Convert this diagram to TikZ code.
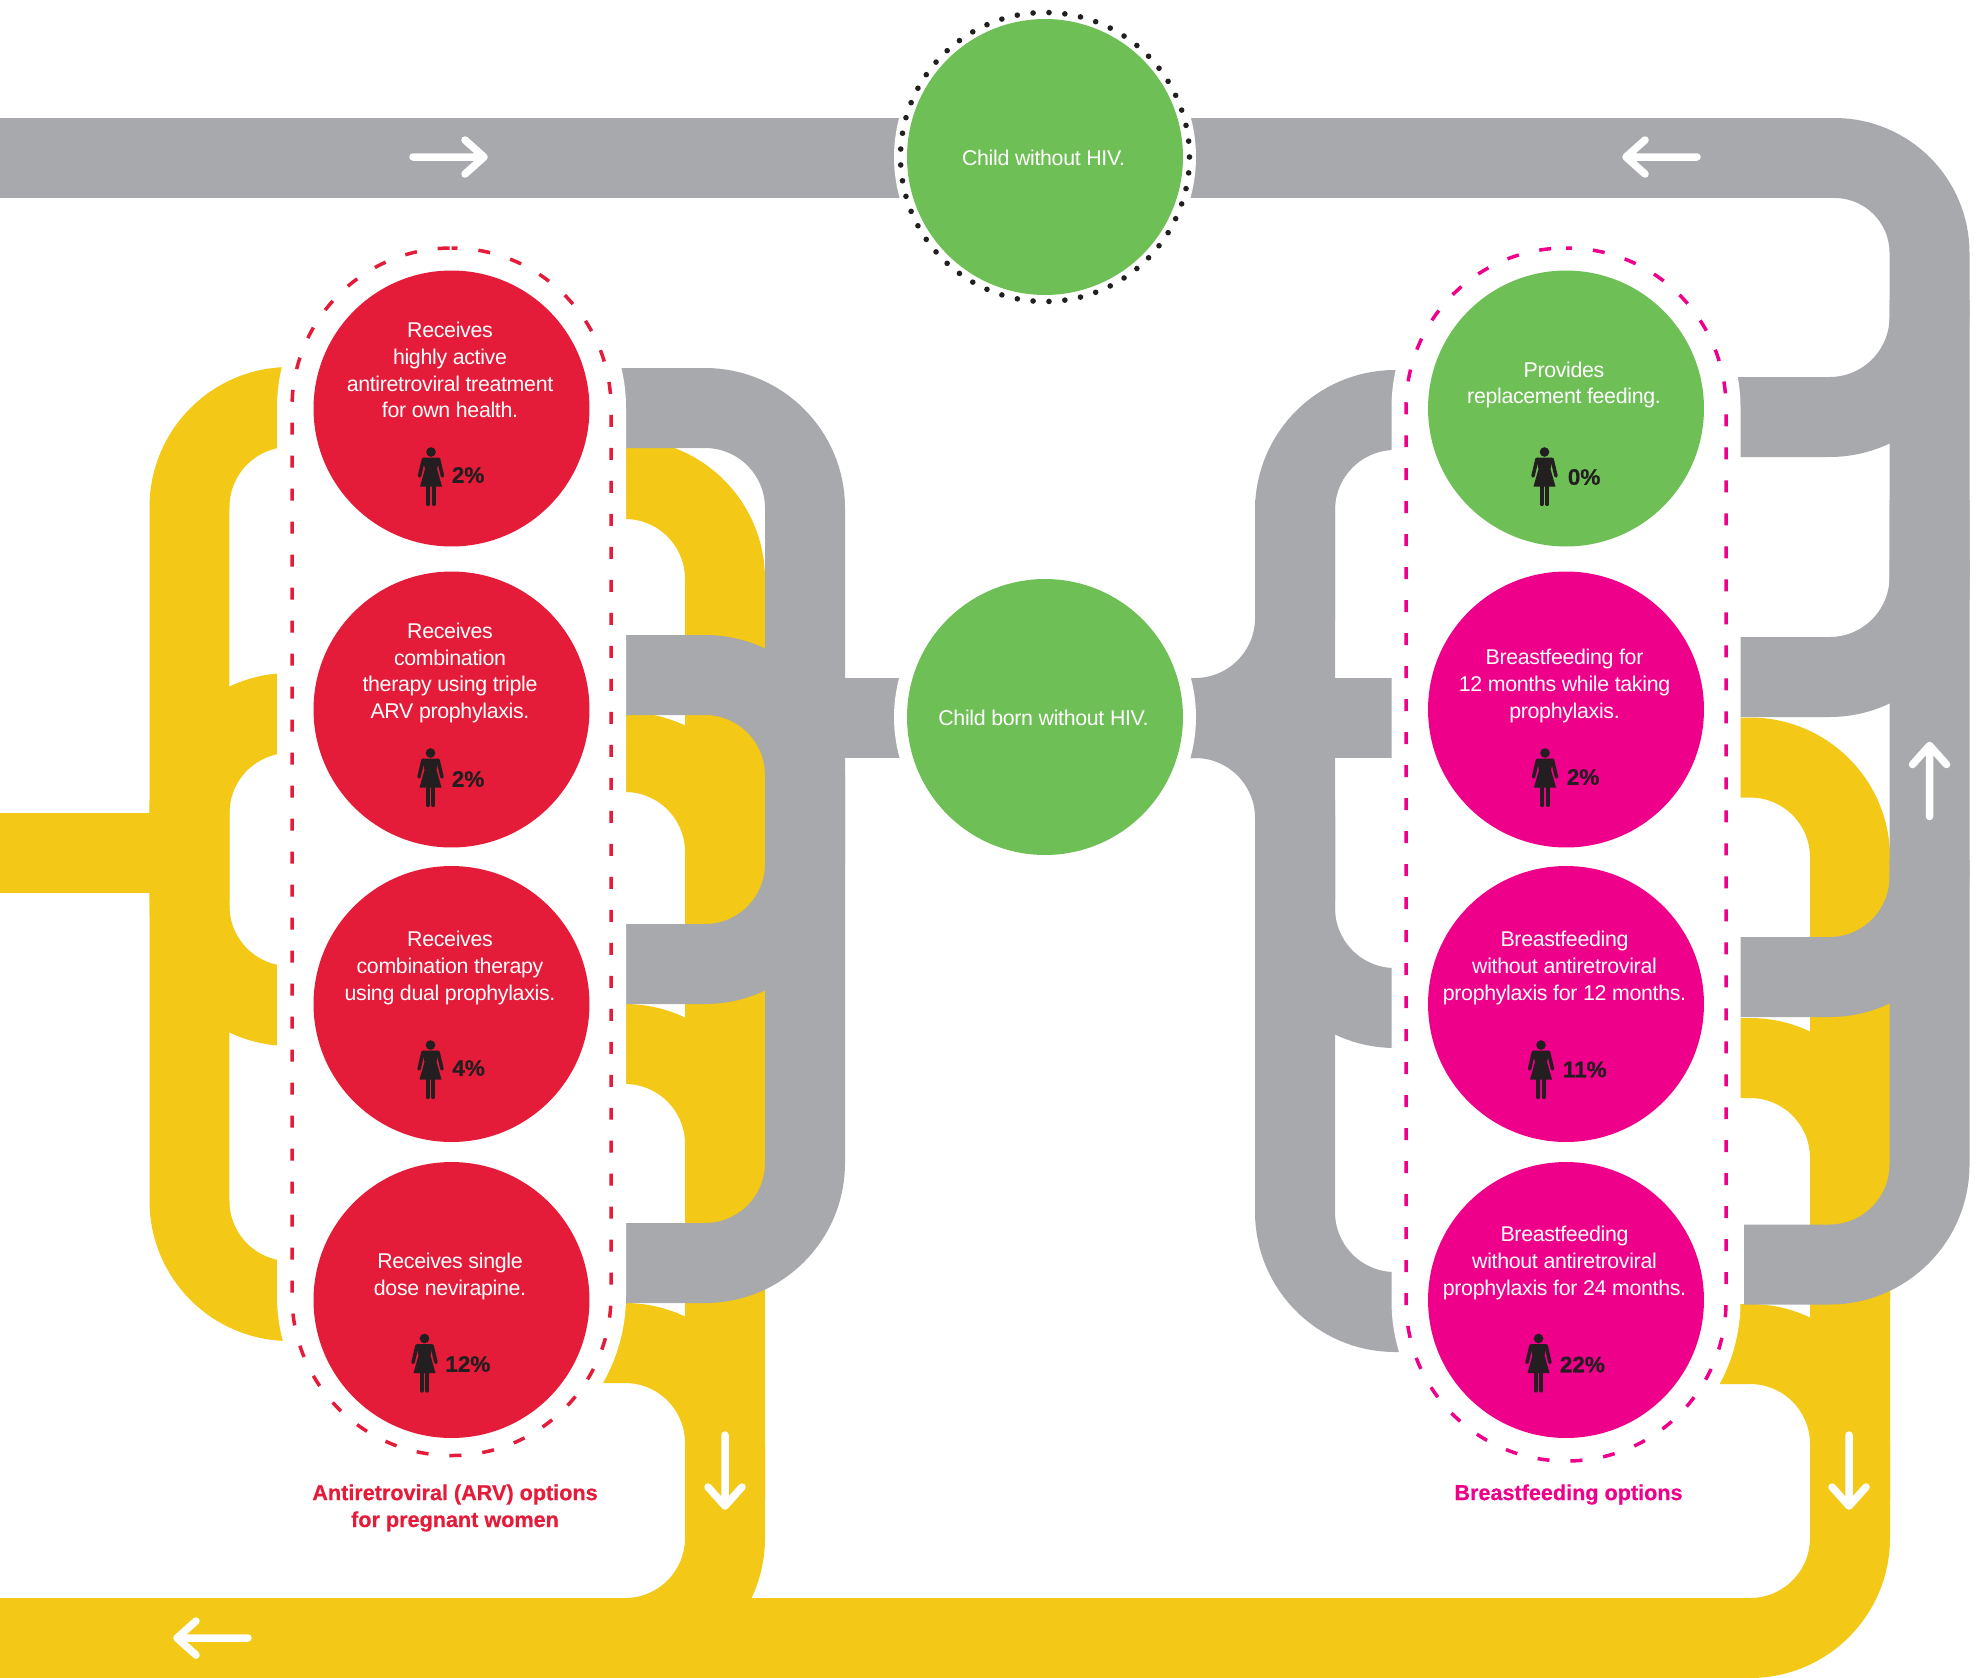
\documentclass[tikz,border=0pt]{standalone}
\usepackage{fontspec}
\setmainfont{Liberation Sans}
\newfontfamily\tightfont[LetterSpace=-1.5]{Liberation Sans}
\newfontfamily\heavyfont[FakeBold=0.5]{Liberation Sans Bold}
\definecolor{pipegray}{HTML}{A7A9AC}
\definecolor{pipeyellow}{HTML}{F3C816}
\definecolor{arvred}{HTML}{E41B39}
\definecolor{feedpink}{HTML}{EE008B}
\definecolor{okgreen}{HTML}{6FBF57}
\definecolor{iconblack}{HTML}{231F20}
\tikzset{
    graypipe/.style = {pipegray, line width = 1.6cm, rounded corners = 2cm},
    yellowpipe/.style = {pipeyellow, line width = 1.6cm, rounded corners = 2cm},
    halo/.style = {white, rounded corners = 3.49cm},
    pillline/.style = {line width = 0.07cm, dash pattern = on 0.24cm off 0.42cm, dash phase = 0.12cm, rounded corners = 3.19cm},
    optioncircle/.style = {circle, minimum size = 5.52cm, inner sep = 0pt},
    optiontext/.style = {white, align = center, font = \fontsize{12.15}{15.3}\tightfont},
    pctext/.style = {iconblack, anchor = west, inner sep = 0pt, font = \fontsize{12.8}{15}\heavyfont},
    grouptext/.style = {align = center, font = \fontsize{12.3}{15.3}\heavyfont},
    woman/.pic = {
        \fill[iconblack] (0,5) circle[radius = 0.096cm];
        \fill[iconblack] (-6.5,10.5) -- (6.5,10.5) -- (8,13) -- (6,22) -- (11,39.5) -- (-11,39.5) -- (-6,22) -- (-8,13) -- cycle;
        \draw[iconblack, line width = 0.07cm, line cap = round] (-7.5,12) -- (-11.5,29);
        \draw[iconblack, line width = 0.07cm, line cap = round] (7.5,12) -- (11.5,29);
        \draw[iconblack, line width = 0.085cm, line cap = round] (-2.8,39) -- (-2.8,57);
        \draw[iconblack, line width = 0.085cm, line cap = round] (2.8,39) -- (2.8,57);
    },
    flowarrow/.pic = {
        \draw[white, line width = 0.15cm, line cap = round, line join = round] (-36,0) -- (35,0) (16,-17) -- (35,0) -- (16,17);
    }
}
\begin{document}
\begin{tikzpicture}[x = 0.02cm, y = -0.02cm]
            \useasboundingbox (0,0) rectangle (1983,1677);
            \clip (0,0) rectangle (1983,1677);
            \draw[yellowpipe] (1700,757.5) -- (1850,757.5) -- (1850,1638) -- (0,1638);
            \draw[yellowpipe] (1700,1058) -- (1850,1058) -- (1850,1300);
            \draw[yellowpipe] (1700,1344) -- (1850,1344) -- (1850,1500);
            \draw[yellowpipe] (600,479) -- (725,479) -- (725,1638) -- (400,1638);
            \draw[yellowpipe] (600,752) -- (725,752) -- (725,900);
            \draw[yellowpipe] (600,1044) -- (725,1044) -- (725,1200);
            \draw[yellowpipe] (600,1343) -- (725,1343) -- (725,1500);
            \draw[yellowpipe] (310,407) -- (189.5,407) -- (189.5,1301) -- (310,1301);
            \draw[yellowpipe] (310,713) -- (189.5,713) -- (189.5,900);
            \draw[yellowpipe] (310,1006) -- (189.5,1006) -- (189.5,800);
            \draw[yellowpipe] (189.5,853) -- (0,853);
            \draw[graypipe, rounded corners = 1.9cm] (0,158) -- (1929.5,158) -- (1929.5,600);
            \draw[graypipe] (1929.5,500) -- (1929.5,1264.5) -- (1744,1264.5);
            \draw[graypipe] (1700,417) -- (1929.5,417) -- (1929.5,300);
            \draw[graypipe] (1700,677) -- (1929.5,677) -- (1929.5,560);
            \draw[graypipe] (1700,977) -- (1929.5,977) -- (1929.5,860);
            \draw[graypipe] (600,408) -- (805,408) -- (805,1263) -- (600,1263);
            \draw[graypipe] (600,675) -- (805,675) -- (805,800);
            \draw[graypipe] (600,964) -- (805,964) -- (805,800);
            \draw[graypipe] (805,718) -- (1045,718);
            \draw[graypipe] (1450,410) -- (1295,410) -- (1295,1312) -- (1450,1312);
            \draw[graypipe] (1450,1008) -- (1295,1008) -- (1295,800);
            \draw[graypipe] (1150,718) -- (1295,718) -- (1295,500);
            \draw[graypipe] (1150,718) -- (1295,718) -- (1295,900);
            \draw[graypipe] (1150,718) -- (1450,718);
            \fill[halo] (277,233.5) rectangle (626,1470.5);
            \fill[halo] (1391.5,233.5) rectangle (1740.5,1475.5);
            \fill[white] (1045,157) circle[radius = 3.02cm];
            \fill[white] (1045,717) circle[radius = 3.02cm];
            \draw[arvred, pillline] (451.5,248) -- (611,248) -- (611,1455.5) -- (292,1455.5) -- (292,248) -- (451.5,248);
            \draw[feedpink, pillline] (1566,248) -- (1726,248) -- (1726,1461) -- (1406,1461) -- (1406,248) -- (1566,248);
            \foreach \n in {1,...,57}
                \fill[iconblack] ({1045 + 144.5*cos(\n*6.3158)},{157 + 144.5*sin(\n*6.3158)}) circle[radius = 0.056cm];
            \node[optioncircle, fill = okgreen] (childfree) at (1045,157) {};
            \node[optioncircle, fill = okgreen] (childborn) at (1045,717) {};
            \node[optiontext] (childfreetext) at (1043.5,158) {Child without HIV.};
            \node[optiontext] (childborntext) at (1043.5,718) {Child born without HIV.};
            \node[optioncircle, fill = arvred] (arva) at (451.5,408.5) {};
            \node[optioncircle, fill = arvred] (arvb) at (451.5,709.5) {};
            \node[optioncircle, fill = arvred] (arvc) at (451.5,1004) {};
            \node[optioncircle, fill = arvred] (arvd) at (451.5,1300) {};
            \node[optioncircle, fill = okgreen] (feeda) at (1566,408.5) {};
            \node[optioncircle, fill = feedpink] (feedb) at (1566,709.5) {};
            \node[optioncircle, fill = feedpink] (feedc) at (1566,1004) {};
            \node[optioncircle, fill = feedpink] (feedd) at (1566,1300) {};
            \node[optiontext] (arvatext) at (450,370) {Receives\\highly active\\antiretroviral treatment\\for own health.};
            \node[optiontext] (arvbtext) at (450,673) {Receives\\combination\\therapy using triple\\ARV prophylaxis.};
            \node[optiontext] (arvctext) at (450,968) {Receives\\combination therapy\\using dual prophylaxis.};
            \node[optiontext] (arvdtext) at (450,1276.5) {Receives single\\dose nevirapine.};
            \node[optiontext] (feedatext) at (1564,385) {Provides\\replacement feeding.};
            \node[optiontext] (feedbtext) at (1564.5,686) {Breastfeeding for\\12 months while taking\\prophylaxis.};
            \node[optiontext] (feedctext) at (1564.5,968) {Breastfeeding\\without antiretroviral\\prophylaxis for 12 months.};
            \node[optiontext] (feeddtext) at (1564.5,1263) {Breastfeeding\\without antiretroviral\\prophylaxis for 24 months.};
            \pic at (431,447) {woman};
            \pic at (430.5,748) {woman};
            \pic at (430.5,1040) {woman};
            \pic at (424.5,1333.5) {woman};
            \pic at (1544.5,447) {woman};
            \pic at (1545,748) {woman};
            \pic at (1541,1040) {woman};
            \pic at (1538.5,1333.5) {woman};
            \node[pctext] (arvapct) at (451.5,475) {2\%};
            \node[pctext] (arvbpct) at (451.5,779) {2\%};
            \node[pctext] (arvcpct) at (452,1068) {4\%};
            \node[pctext] (arvdpct) at (445,1364) {12\%};
            \node[pctext] (feedapct) at (1567.5,477) {0\%};
            \node[pctext] (feedbpct) at (1566.5,777) {2\%};
            \node[pctext] (feedcpct) at (1562.5,1069.5) {11\%};
            \node[pctext] (feeddpct) at (1559.5,1364.5) {22\%};
            \node[grouptext, arvred] (arvlabel) at (455,1508) {Antiretroviral (ARV) options\\for pregnant women};
            \node[grouptext, feedpink] (feedlabel) at (1568.5,1494.5) {Breastfeeding options};
            \pic at (449,157) {flowarrow};
            \pic[rotate = 180] at (1661,157) {flowarrow};
            \pic[rotate = 90] at (1929.5,780.5) {flowarrow};
            \pic[rotate = -90] at (1849,1471) {flowarrow};
            \pic[rotate = -90] at (725,1471) {flowarrow};
            \pic[rotate = 180] at (212,1638) {flowarrow};
        \end{tikzpicture}
\end{document}
